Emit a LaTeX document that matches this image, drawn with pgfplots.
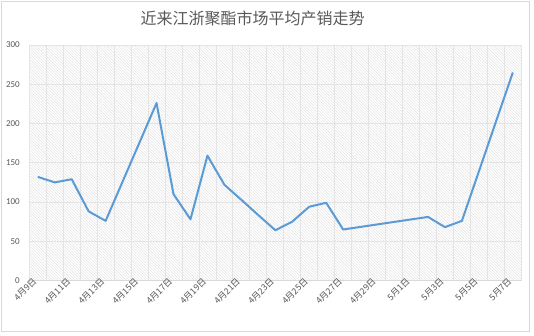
\documentclass[border=0pt]{standalone}
\usepackage{pgfplots}
\pgfplotsset{compat=1.18}
\usepackage{fontspec}
\setmainfont{Carlito}
\newfontfamily\cjk{Noto Sans CJK SC}
\usetikzlibrary{patterns.meta}
\definecolor{txt}{HTML}{595959}
\definecolor{ln}{HTML}{5B9BD5}
\definecolor{grd}{HTML}{E4E4E4}
\definecolor{frm}{HTML}{D9D9D9}
\begin{document}
\begin{tikzpicture}
\useasboundingbox (0,0) rectangle (534pt,335pt);
\fill[white] (0,0) rectangle (534pt,335pt);
\draw[frm, line width=0.8pt] (1pt,3.3pt) rectangle (529.5pt,334pt);
\node[font=\cjk\fontsize{16}{19}\selectfont, text=txt] at (252.5pt,316.7pt) {近来江浙聚酯市场平均产销走势};
\begin{axis}[
  at={(29.3pt,54.5pt)}, anchor=south west,
  scale only axis, width=492pt, height=235.5pt,
  xmin=-0.5, xmax=28.5, ymin=0, ymax=300,
  axis background/.style={pattern={Lines[angle=-45,distance=2pt,line width=0.4pt]}, pattern color=gray!25},
  axis x line*=bottom, axis y line*=left,
  y axis line style={draw=none},
  x axis line style={draw=frm, line width=0.8pt},
  ytick={0,50,...,300},
  ymajorgrids,
  major grid style={draw=grd, line width=0.8pt},
  minor grid style={draw=grd, line width=0.8pt},
  xtick={-0.5,1.5,...,27.5},
  xticklabels={4月9日,4月11日,4月13日,4月15日,4月17日,4月19日,4月21日,4月23日,4月25日,4月27日,4月29日,5月1日,5月3日,5月5日,5月7日},
  minor xtick={-0.5,0.5,...,28.5},
  xminorgrids,
  xtick style={draw=frm, line width=0.8pt},
  ytick style={draw=none},
  major tick length=3.5pt,
  tick align=outside,
  minor tick length=0pt,
  /pgf/number format/assume math mode=true,
  yticklabel style={font=\fontsize{9}{10}\selectfont, text=txt, xshift=-2.5pt},
  xticklabel style={font=\cjk\fontsize{8.8}{10}\selectfont, text=txt, rotate=45, anchor=east, yshift=-1pt, xshift=10.5pt},
]
\addplot[ln, line width=2pt, line join=round] coordinates {
(0,132) (1,125) (2,129) (3,88) (4,76) (7,226) (8,110) (9,78) (10,159) (11,122)
(14,64) (15,75) (16,94) (17,99) (18,65) (23,81) (24,68) (25,76) (28,265)
};
\end{axis}
\end{tikzpicture}
\end{document}
